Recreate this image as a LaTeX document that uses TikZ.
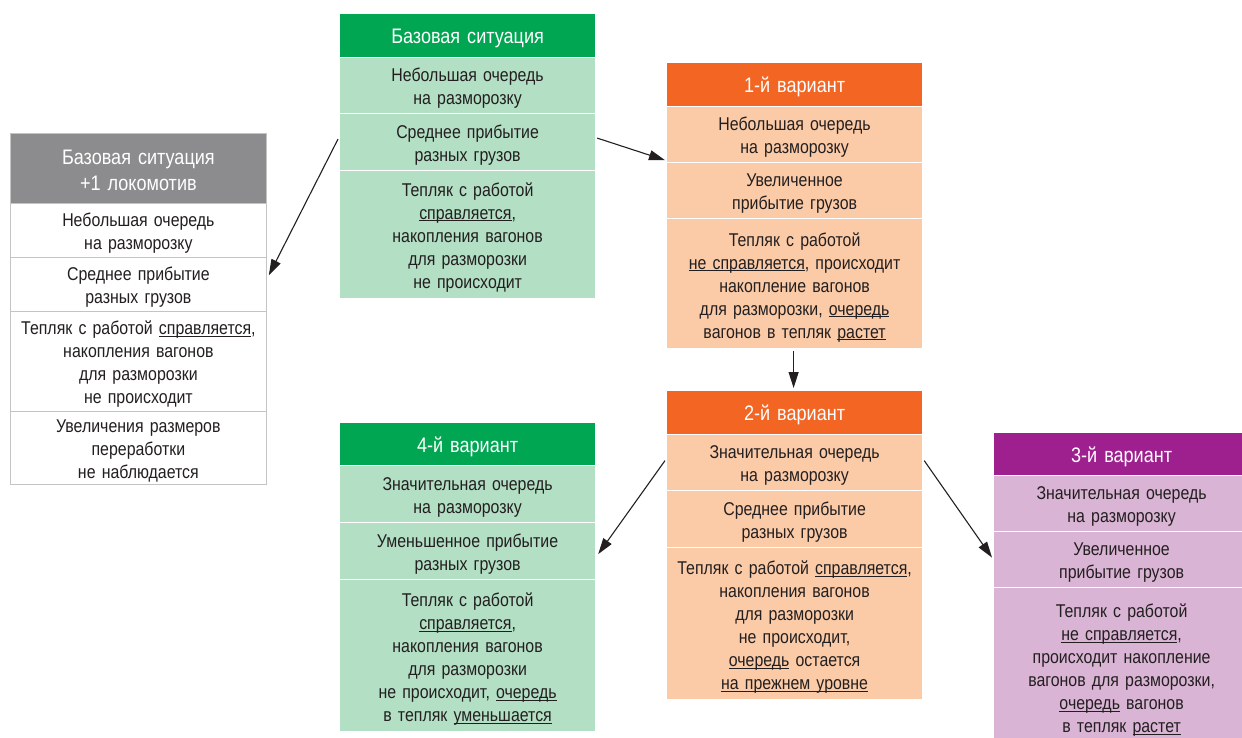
\documentclass[tikz,border=0pt]{standalone}
\usepackage{fontspec}
\setmainfont{Liberation Sans}[FakeStretch=0.86]
\usetikzlibrary{arrows.meta,calc}
\newcommand\uln[1]{\underline{\smash{#1}}}
\definecolor{txt}{HTML}{231F20}
\definecolor{hgreen}{HTML}{00A651}
\definecolor{lgreen}{HTML}{B3DFC4}
\definecolor{horange}{HTML}{F26522}
\definecolor{lorange}{HTML}{FBCBA7}
\definecolor{hpurple}{HTML}{9E1F8E}
\definecolor{lpurple}{HTML}{DAB4D5}
\definecolor{hgray}{HTML}{8C8C8E}
\definecolor{bgray}{HTML}{C4C4C4}
\tikzset{
  sec/.style={rectangle, anchor=north west, inner xsep=4pt, inner ysep=0pt,
    text width=248pt, align=center, font=\fontsize{18.5}{23}\selectfont,
    text=txt, draw=white, line width=1.2pt,
    execute at begin node={\rule{0pt}{19pt}}},
  hdr/.style={sec, text=white, font=\fontsize{21}{26}\selectfont,
    execute at begin node={\rule{0pt}{21pt}}},
  gsec/.style={sec, fill=white, draw=bgray, line width=0.8pt},
  conn/.style={draw=txt, line width=1.1pt, -{Triangle[length=16pt,width=10pt]}},
}
\begin{document}
\begin{tikzpicture}[x=1pt,y=-1pt]
\useasboundingbox (0,0) rectangle (1242,738);
\clip (0,0) rectangle (1242,738);
% gray box
\node[gsec, fill=hgray, text=white, font=\fontsize{21}{26}\selectfont, minimum height=70pt] (gh) at (10,133) {Базовая ситуация\\+1 локомотив};
\node[gsec, minimum height=54pt] (g1) at (10,203) {Небольшая очередь\\на разморозку};
\node[gsec, minimum height=54pt] (g2) at (10,257) {Среднее прибытие\\разных грузов};
\node[gsec, minimum height=100pt] (g3) at (10,311) {Тепляк с работой \uln{справляется},\\накопления вагонов\\для разморозки\\не происходит};
\node[gsec, minimum height=73pt] (g4) at (10,411) {Увеличения размеров\\переработки\\не наблюдается};
% base green
\node[hdr, fill=hgreen, minimum height=44pt] (bh) at (339,13) {Базовая ситуация};
\node[sec, fill=lgreen, minimum height=56pt] (b1) at (339,57) {Небольшая очередь\\на разморозку};
\node[sec, fill=lgreen, minimum height=57pt] (b2) at (339,113) {Среднее прибытие\\разных грузов};
\node[sec, fill=lgreen, minimum height=128pt] (b3) at (339,170) {Тепляк с работой\\\uln{справляется},\\накопления вагонов\\для разморозки\\не происходит};
% orange 1
\node[hdr, fill=horange, minimum height=44pt] (ah) at (666,62) {1-й вариант};
\node[sec, fill=lorange, minimum height=56pt] (a1) at (666,106) {Небольшая очередь\\на разморозку};
\node[sec, fill=lorange, minimum height=56pt] (a2) at (666,162) {Увеличенное\\прибытие грузов};
\node[sec, fill=lorange, minimum height=130pt] (a3) at (666,218) {Тепляк с работой\\\uln{не справляется}, происходит\\накопление вагонов\\для разморозки, \uln{очередь}\\вагонов в тепляк \uln{растет}};
% orange 2
\node[hdr, fill=horange, minimum height=44pt] (ch) at (666,390) {2-й вариант};
\node[sec, fill=lorange, minimum height=56pt] (c1) at (666,434) {Значительная очередь\\на разморозку};
\node[sec, fill=lorange, minimum height=57pt] (c2) at (666,490) {Среднее прибытие\\разных грузов};
\node[sec, fill=lorange, minimum height=152pt] (c3) at (666,547) {Тепляк с работой \uln{справляется},\\накопления вагонов\\для разморозки\\не происходит,\\\uln{очередь} остается\\\uln{на прежнем уровне}};
% green 4
\node[hdr, fill=hgreen, minimum height=43pt] (dh) at (339,422) {4-й вариант};
\node[sec, fill=lgreen, minimum height=57pt] (d1) at (339,465) {Значительная очередь\\на разморозку};
\node[sec, fill=lgreen, minimum height=57pt] (d2) at (339,522) {Уменьшенное прибытие\\разных грузов};
\node[sec, fill=lgreen, minimum height=152pt] (d3) at (339,579) {Тепляк с работой\\\uln{справляется},\\накопления вагонов\\для разморозки\\не происходит, \uln{очередь}\\в тепляк \uln{уменьшается}};
% purple 3
\node[hdr, fill=hpurple, minimum height=43pt] (eh) at (993,432) {3-й вариант};
\node[sec, fill=lpurple, minimum height=56pt] (e1) at (993,475) {Значительная очередь\\на разморозку};
\node[sec, fill=lpurple, minimum height=56pt] (e2) at (993,531) {Увеличенное\\прибытие грузов};
\node[sec, fill=lpurple, minimum height=158pt] (e3) at (993,587) {Тепляк с работой\\\uln{не справляется},\\происходит накопление\\вагонов для разморозки,\\\uln{очередь} вагонов\\в тепляк \uln{растет}};
% connectors
\draw[conn] ($(b2.west)+(-1,-3)$) -- ($(g2.east)+(2,-9)$);
\draw[conn] ($(b2.east)+(1,-4)$) -- ($(a1.south west)+(-1,-3)$);
\draw[conn] ($(a3.south)+(-1,2)$) -- ($(ch.north)+(-1,-2)$);
\draw[conn] ($(c1.west)+(-1,-2)$) -- ($(d2.east)+(2,3)$);
\draw[conn] ($(c1.east)+(1,-2)$) -- ($(e2.west)+(-1,-2)$);
\end{tikzpicture}
\end{document}
